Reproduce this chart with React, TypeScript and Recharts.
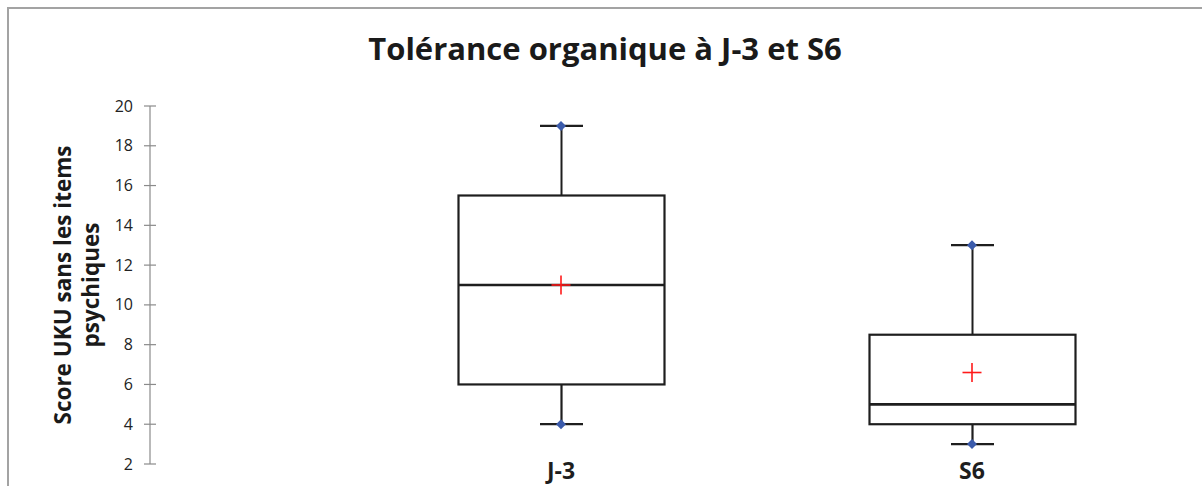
import React from 'react';
import { ComposedChart, Bar, Scatter, XAxis, YAxis } from 'recharts';

const categories = ['J-3', 'S6'];
const minValues = [4, 3];
const q1Values = [6, 4];
const medianValues = [11, 5];
const q3Values = [15.5, 8.5];
const maxValues = [19, 13];
const meanValues = [11, 6.6];
const yTicks = [2, 4, 6, 8, 10, 12, 14, 16, 18, 20];

const title = 'Tolérance organique à J-3 et S6';
const yLabelLines = ['Score UKU sans les items', 'psychiques'];

const data = categories.map((name, i) => ({
  name,
  box: [q1Values[i], q3Values[i]],
  min: minValues[i],
  q1: q1Values[i],
  median: medianValues[i],
  q3: q3Values[i],
  max: maxValues[i],
  mean: meanValues[i],
}));

const LINE = '#1e1e1e';
const FONT = '"Open Sans", "DejaVu Sans", sans-serif';

const BoxShape = (props: any) => {
  const { x, y, width, height, payload } = props;
  if (x == null || y == null) return null;
  const { q1, q3, median, min, max } = payload;
  const k = height / (q3 - q1);
  const py = (v: number) => y + (q3 - v) * k;
  const cx = x + width / 2;
  const capHalf = 21.5;
  return (
    <g>
      <line x1={cx} x2={cx} y1={py(max)} y2={py(q3)} stroke={LINE} strokeWidth={2} />
      <line x1={cx} x2={cx} y1={py(q1)} y2={py(min)} stroke={LINE} strokeWidth={2.2} />
      <line x1={cx - capHalf} x2={cx + capHalf} y1={py(max)} y2={py(max)} stroke={LINE} strokeWidth={2.2} />
      <line x1={cx - capHalf} x2={cx + capHalf} y1={py(min)} y2={py(min)} stroke={LINE} strokeWidth={2.2} />
      <rect x={x} y={y} width={width} height={height} fill="#ffffff" stroke={LINE} strokeWidth={2.2} />
      <line x1={x} x2={x + width} y1={py(median)} y2={py(median)} stroke={LINE} strokeWidth={2.6} />
    </g>
  );
};

const Diamond = (props: any) => {
  const { cx, cy } = props;
  if (cx == null || cy == null) return null;
  const r = 5;
  return (
    <path
      d={`M${cx},${cy - r} L${cx + r},${cy} L${cx},${cy + r} L${cx - r},${cy} Z`}
      fill="#3b5bab"
    />
  );
};

const Cross = (props: any) => {
  const { cx, cy } = props;
  if (cx == null || cy == null) return null;
  const r = 9.5;
  return (
    <g stroke="#ff1a1a" strokeWidth={1.6}>
      <line x1={cx - r} x2={cx + r} y1={cy} y2={cy} />
      <line x1={cx} x2={cx} y1={cy - r} y2={cy + r} />
    </g>
  );
};

const YTick = (props: any) => {
  const { x, y, payload } = props;
  return (
    <g>
      <line x1={x - 6} x2={x + 6} y1={y} y2={y} stroke="#8a8a8a" strokeWidth={1.2} />
      <text
        x={x - 17}
        y={y}
        dy="0.35em"
        textAnchor="end"
        fontFamily={FONT}
        fontSize={16}
        fill="#222222"
      >
        {payload.value}
      </text>
    </g>
  );
};

const XTick = (props: any) => {
  const { x, y, payload } = props;
  return (
    <text
      x={x}
      y={y + 15}
      textAnchor="middle"
      fontFamily={FONT}
      fontSize={23}
      fontWeight={700}
      fill="#1e1e1e"
    >
      {payload.value}
    </text>
  );
};

export default function App() {
  return (
    <div
      style={{
        position: 'fixed',
        left: 0,
        top: 0,
        width: 1202,
        height: 486,
        overflow: 'hidden',
        background: '#ffffff',
      }}
    >
      <div
        style={{
          position: 'absolute',
          left: 7,
          top: 7,
          width: 1300,
          height: 600,
          border: '2px solid #a3a3a3',
          boxSizing: 'border-box',
        }}
      />
      <div style={{ position: 'absolute', left: 0, top: 0 }}>
        <ComposedChart
          width={1202}
          height={486}
          data={data}
          margin={{ top: 106, right: 0, bottom: 0, left: 90 }}
        >
          <XAxis
            dataKey="name"
            type="category"
            padding={{ left: 205.5, right: 24.5 }}
            axisLine={false}
            tickLine={false}
            tickSize={0}
            tickMargin={0}
            height={22}
            interval={0}
            tick={<XTick />}
          />
          <YAxis
            type="number"
            domain={[2, 20]}
            ticks={yTicks}
            interval={0}
            width={60}
            axisLine={{ stroke: '#8a8a8a', strokeWidth: 1.2 }}
            tickLine={false}
            tickSize={0}
            tickMargin={0}
            tick={<YTick />}
          />
          <Bar dataKey="box" barSize={206} shape={<BoxShape />} isAnimationActive={false} />
          <Scatter dataKey="max" shape={<Diamond />} isAnimationActive={false} />
          <Scatter dataKey="min" shape={<Diamond />} isAnimationActive={false} />
          <Scatter dataKey="mean" shape={<Cross />} isAnimationActive={false} />
        </ComposedChart>
      </div>
      <svg
        width={1202}
        height={486}
        style={{ position: 'absolute', left: 0, top: 0, pointerEvents: 'none' }}
      >
        <text
          x={605}
          y={60}
          textAnchor="middle"
          fontFamily={FONT}
          fontSize={31}
          fontWeight={700}
          fill="#1a1a1a"
        >
          {title}
        </text>
        <g transform="translate(0,285) rotate(-90)">
          <text
            x={0}
            y={71}
            textAnchor="middle"
            fontFamily={FONT}
            fontSize={22.5}
            fontWeight={700}
            fill="#1a1a1a"
          >
            {yLabelLines[0]}
          </text>
          <text
            x={0}
            y={99}
            textAnchor="middle"
            fontFamily={FONT}
            fontSize={22.5}
            fontWeight={700}
            fill="#1a1a1a"
          >
            {yLabelLines[1]}
          </text>
        </g>
      </svg>
    </div>
  );
}
